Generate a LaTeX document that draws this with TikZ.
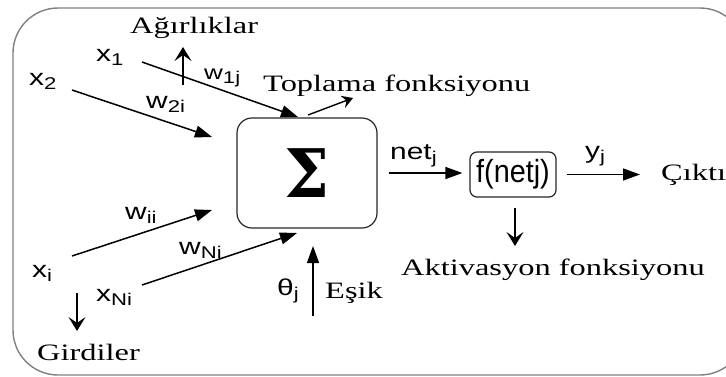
\documentclass[tikz,border=0pt]{standalone}
\usepackage{fontspec}
\usepackage{graphicx}
\setmainfont{Liberation Serif}
\setsansfont{Liberation Sans}
\newfontfamily\sigmafont{DejaVu Serif}
\usetikzlibrary{arrows.meta}

% wide serif captions and sans symbols with subscripts
\newcommand\sertext[1]{\scalebox{1.38}[1]{\fontsize{23.5}{28}\selectfont #1}}
\newcommand\santext[1]{\scalebox{1.3}[1]{\sffamily\fontsize{23}{27}\selectfont #1}}
\newcommand\smalltext[1]{\scalebox{1.3}[1]{\sffamily\fontsize{20}{24}\selectfont #1}}
\newcommand\lowsub[1]{\raisebox{-0.2em}{\fontsize{17}{20}\selectfont #1}}

\tikzset{
  frame/.style={draw=black!50, line width=1.4pt, rounded corners=45pt},
  blockbox/.style={draw=black!85, line width=1.2pt, inner sep=0pt},
  lbl/.style={inner sep=0pt, anchor=base west},
  bigarr/.style={draw, line width=1.5pt, -{Triangle[length=17pt,width=12pt]}},
  smallarr/.style={draw, line width=1.5pt, -{Stealth[length=14pt,width=17pt,inset=6pt]}},
  tinyarr/.style={draw, line width=1.4pt, -{Stealth[length=11pt,width=13pt,inset=4pt]}}
}

\begin{document}
\begin{tikzpicture}[x=1pt,y=-1pt]
\useasboundingbox (0,0) rectangle (726,376);
\clip (0,0) rectangle (726,376);

% outer frame
\draw[frame] (13,8) rectangle (745,375);

% summation block and activation block
\node[blockbox, minimum width=140pt, minimum height=110pt, rounded corners=15pt] (sig) at (307,173)
  {\scalebox{0.95}[1]{\sigmafont\bfseries\fontsize{67}{76}\selectfont Σ}};
\node[blockbox, minimum width=86pt, minimum height=45pt, rounded corners=7pt] (fn) at (513,174.5)
  {\scalebox{0.9}[1]{\sffamily\fontsize{32}{36}\selectfont f(netj)}};

% serif captions
\node[lbl] (agr) at (130,33) {\sertext{Ağırlıklar}};
\node[lbl] (top) at (263,91) {\sertext{Toplama fonksiyonu}};
\node[lbl] (out) at (661,180) {\sertext{Çıktı}};
\node[lbl] (akt) at (401,275) {\sertext{Aktivasyon fonksiyonu}};
\node[lbl] (esik) at (325,298) {\sertext{Eşik}};
\node[lbl] (gir) at (37,360) {\sertext{Girdiler}};

% sans symbols
\node[lbl] (lx1) at (96,61) {\santext{x\lowsub{1}}};
\node[lbl] (lx2) at (29,85) {\santext{x\lowsub{2}}};
\node[lbl] (lw1) at (204,79) {\smalltext{w\lowsub{1j}}};
\node[lbl] (lw2) at (146,108) {\santext{w\lowsub{2i}}};
\node[lbl] (lnet) at (390,159) {\santext{net\lowsub{j}}};
\node[lbl] (ly) at (585,158) {\santext{y\lowsub{j}}};
\node[lbl] (lwi) at (125,219) {\santext{w\lowsub{ii}}};
\node[lbl] (lwN) at (179,254) {\santext{w\lowsub{Ni}}};
\node[lbl] (lxi) at (32,277) {\santext{x\lowsub{i}}};
\node[lbl] (lxN) at (96,301) {\santext{x\lowsub{Ni}}};
\node[lbl] (lth) at (277,295) {\santext{θ\lowsub{j}}};

% arrow end points
\coordinate (x1s) at (142,62);  \coordinate (x1e) at (298,117);
\coordinate (x2s) at (72,90);   \coordinate (x2e) at (212,137);
\coordinate (xis) at (72,256);  \coordinate (xie) at (212,210);
\coordinate (xNs) at (142,285); \coordinate (xNe) at (297,233);
\coordinate (ths) at (313,316); \coordinate (the) at (313,246);
\coordinate (ags) at (183,85);  \coordinate (age) at (183,47);
\coordinate (tps) at (308,115); \coordinate (tpe) at (353,98);
\coordinate (grs) at (77,293);  \coordinate (gre) at (77,331);
\coordinate (aks) at (515,208); \coordinate (ake) at (515,246);

% weighted inputs into the summation
\draw[bigarr] (x1s) -- (x1e);
\draw[bigarr] (x2s) -- (x2e);
\draw[bigarr] (xis) -- (xie);
\draw[bigarr] (xNs) -- (xNe);
\draw[bigarr] (ths) -- (the);

% net value and output
\draw[bigarr, shorten <=11pt, shorten >=7pt] (sig.east) -- (sig.east -| fn.west);
\draw[bigarr, shorten <=10pt, shorten >=21pt] (fn.east) -- (fn.east -| out.west);

% pointer arrows to captions
\draw[smallarr] (ags) -- (age);
\draw[tinyarr] (tps) -- (tpe);
\draw[smallarr] (grs) -- (gre);
\draw[smallarr] (aks) -- (ake);
\end{tikzpicture}
\end{document}
